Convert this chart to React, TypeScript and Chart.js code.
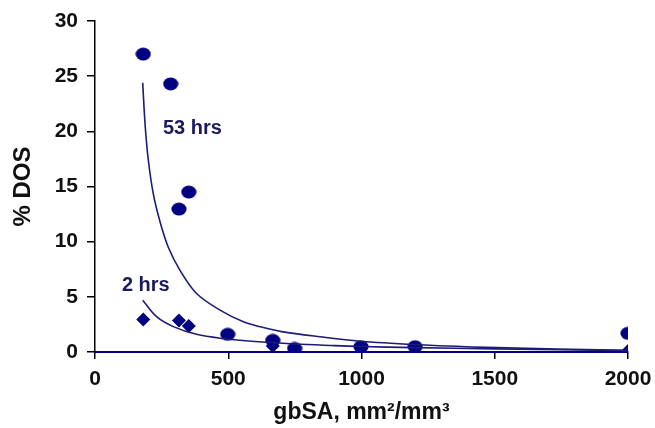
import React, { useEffect, useRef } from "react";
import { Chart, registerables } from "chart.js";

Chart.register(...registerables);

// 53 hrs measured points (circles)
const x53 = [181, 284, 315, 352, 498, 667, 749, 998, 1201, 2000];
const y53 = [27.0, 24.3, 12.95, 14.5, 1.6, 1.05, 0.32, 0.48, 0.48, 1.69];

// 2 hrs measured points (diamonds)
const x2 = [181, 315, 352, 667, 2000];
const y2 = [2.95, 2.85, 2.35, 0.55, 0.1];

// 53 hrs trend curve
const fitX53 = [179, 188, 200, 219, 244, 275, 319, 381, 469, 557, 620, 700, 844, 994, 1220, 1470, 2000];
const fitY53 = [24.4, 20.6, 17.4, 14.3, 11.8, 9.5, 7.4, 5.3, 3.8, 2.74, 2.29, 1.85, 1.38, 0.98, 0.66, 0.42, 0.15];

// 2 hrs trend curve
const fitX2 = [179, 231, 294, 381, 481, 600, 750, 900, 1000, 1200, 1500, 2000];
const fitY2 = [4.7, 3.2, 2.3, 1.6, 1.22, 0.95, 0.72, 0.58, 0.5, 0.4, 0.28, 0.12];

const xTicks = [0, 500, 1000, 1500, 2000];
const yTicks = [0, 5, 10, 15, 20, 25, 30];

const seriesLabels = [
  { text: "53 hrs", x: 255, y: 20.3 },
  { text: "2 hrs", x: 101, y: 6.05 },
];

const NAVY = "#000080";
const CURVE = "#1c1c78";
const FONT = '"Liberation Sans", Arial, sans-serif';

function makeEllipse(): HTMLCanvasElement {
  const c = document.createElement("canvas");
  c.width = 16;
  c.height = 14;
  const ctx = c.getContext("2d")!;
  ctx.fillStyle = NAVY;
  ctx.beginPath();
  ctx.ellipse(8, 7, 7.6, 6.4, 0, 0, Math.PI * 2);
  ctx.fill();
  return c;
}

const labelPlugin = {
  id: "seriesLabels",
  afterDatasetsDraw(chart: any) {
    const { ctx, scales } = chart;
    ctx.save();
    ctx.font = `bold 20px ${FONT}`;
    ctx.fillStyle = "#1a1a5e";
    ctx.textAlign = "left";
    ctx.textBaseline = "middle";
    seriesLabels.forEach((l) => {
      ctx.fillText(l.text, scales.x.getPixelForValue(l.x), scales.y.getPixelForValue(l.y));
    });
    ctx.restore();
  },
};

export default function App() {
  const ref = useRef<HTMLCanvasElement | null>(null);

  useEffect(() => {
    if (!ref.current) return;
    const ellipse = makeEllipse();
    const chart = new Chart(ref.current, {
      type: "scatter",
      data: {
        datasets: [
          {
            label: "53 hrs fit",
            type: "line",
            data: fitX53.map((x, i) => ({ x, y: fitY53[i] })),
            borderColor: CURVE,
            borderWidth: 1.6,
            pointRadius: 0,
            tension: 0.35,
            fill: false,
          },
          {
            label: "2 hrs fit",
            type: "line",
            data: fitX2.map((x, i) => ({ x, y: fitY2[i] })),
            borderColor: CURVE,
            borderWidth: 1.6,
            pointRadius: 0,
            tension: 0.35,
            fill: false,
          },
          {
            label: "2 hrs",
            data: x2.map((x, i) => ({ x, y: y2[i] })),
            pointStyle: "rectRot",
            pointRadius: 7,
            backgroundColor: NAVY,
            borderColor: NAVY,
            borderWidth: 0,
          },
          {
            label: "53 hrs",
            data: x53.map((x, i) => ({ x, y: y53[i] })),
            pointStyle: ellipse as any,
            pointRadius: 7,
            backgroundColor: NAVY,
            borderColor: NAVY,
          },
        ],
      },
      options: {
        animation: false,
        responsive: false,
        layout: { padding: { top: 21, right: 27, left: 0, bottom: 0 } },
        plugins: { legend: { display: false }, tooltip: { enabled: false } },
        scales: {
          x: {
            type: "linear",
            min: 0,
            max: 2000,
            afterFit: (s: any) => {
              s.height = 76;
              s.paddingRight = 0;
              s.paddingLeft = 0;
            },
            afterBuildTicks: (s: any) => {
              s.ticks = xTicks.map((v) => ({ value: v }));
            },
            border: { display: true, color: NAVY, width: 2 },
            grid: { display: true, drawOnChartArea: false, drawTicks: true, tickLength: 7, color: "#000", lineWidth: 1.5 },
            ticks: {
              color: "#111",
              padding: 8,
              font: { family: FONT, size: 21, weight: "bold" },
              maxRotation: 0,
              callback: (v: any) => String(v),
            },
            title: {
              display: true,
              text: "gbSA, mm²/mm³",
              color: "#111",
              font: { family: FONT, size: 23, weight: "bold" },
              padding: { top: 0, bottom: 2 },
            },
          },
          y: {
            type: "linear",
            min: 0,
            max: 30,
            afterFit: (s: any) => {
              s.width = 95;
              s.paddingTop = 0;
              s.paddingBottom = 0;
            },
            afterBuildTicks: (s: any) => {
              s.ticks = yTicks.map((v) => ({ value: v }));
            },
            border: { display: true, color: "#000", width: 1.5 },
            grid: { display: true, drawOnChartArea: false, drawTicks: true, tickLength: 8, color: "#000", lineWidth: 1.5 },
            ticks: {
              color: "#111",
              padding: 9,
              font: { family: FONT, size: 21, weight: "bold" },
              callback: (v: any) => String(v),
            },
            title: {
              display: true,
              text: "% DOS",
              color: "#111",
              font: { family: FONT, size: 24, weight: "bold" },
              padding: { top: 9, bottom: 0 },
            },
          },
        },
      },
      plugins: [labelPlugin],
    });
    return () => chart.destroy();
  }, []);

  return (
    <div style={{ position: "fixed", left: 0, top: 0, width: 655, height: 428, background: "#fff" }}>
      <canvas ref={ref} width={655} height={428} />
    </div>
  );
}
